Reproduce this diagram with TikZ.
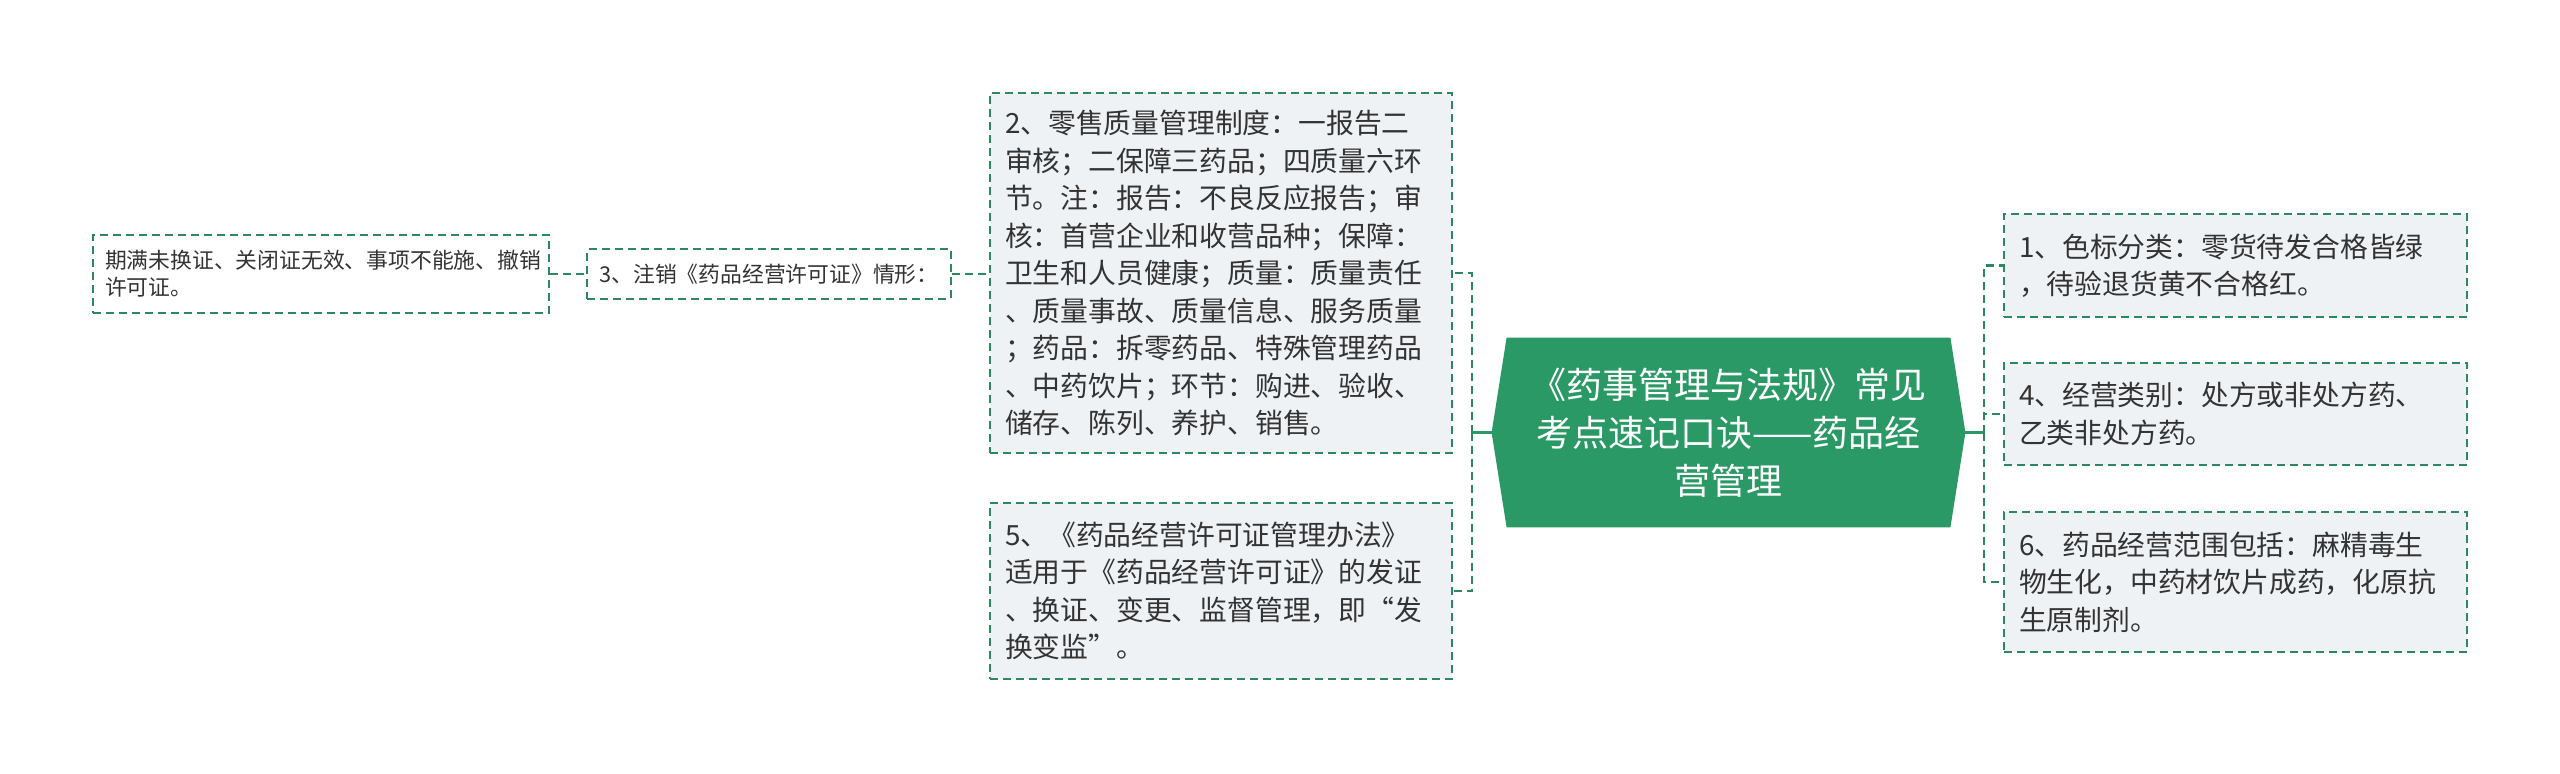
\documentclass[tikz,border=0pt]{standalone}
\usepackage{fontspec}
\setmainfont{Noto Sans CJK SC}
\usetikzlibrary{backgrounds}
\definecolor{cgreen}{RGB}{42,153,101}
\definecolor{bgreen}{RGB}{44,136,94}
\definecolor{boxfill}{RGB}{239,242,245}
\definecolor{txt}{RGB}{51,51,51}
\begin{document}
\begin{tikzpicture}[x=0.5pt,y=-0.5pt,
  leaf/.style={draw=bgreen, line width=1pt, dash pattern=on 4pt off 2.5pt,
    fill=boxfill, text=txt, align=left, inner xsep=7.5pt, inner ysep=0pt,
    text width=216.5pt, anchor=center, font=\fontsize{13.9}{18.75}\selectfont},
  smallleaf/.style={draw=bgreen, line width=1pt, dash pattern=on 4pt off 2.5pt,
    fill=white, text=txt, inner xsep=6pt, inner ysep=0pt, anchor=center,
    font=\fontsize{10.9}{13.5}\selectfont},
  rootnode/.style={text=white, align=center, inner sep=0pt,
    minimum width=221.5pt, minimum height=94.5pt,
    font=\fontsize{18}{24}\selectfont},
  solidcon/.style={draw=cgreen, line width=1.5pt},
  dashcon/.style={draw=bgreen, line width=1.2pt, dash pattern=on 4pt off 2.5pt}
]
\useasboundingbox (0,0) rectangle (2560,773);

% root
\node[rootnode] (c) at (1728.5,432.5) {《药事管理与法规》常见\\考点速记口诀——药品经\\营管理};
\coordinate (cR) at ([xshift=7.5pt]c.east);
\coordinate (cL) at ([xshift=-7.5pt]c.west);
\begin{scope}[on background layer]
  \fill[white] (0,0) rectangle (2560,773);
  \fill[cgreen] (c.north west) -- (c.north east) -- (cR) -- (c.south east)
    -- (c.south west) -- (cL) -- cycle;
\end{scope}

% right side
\node[leaf, minimum height=51.5pt] (b1) at (2235.5,265.5)
  {1、色标分类：零货待发合格皆绿\\，待验退货黄不合格红。};
\node[leaf, minimum height=51pt] (b4) at (2235.5,414)
  {4、经营类别：处方或非处方药、\\乙类非处方药。};
\node[leaf, minimum height=70pt] (b6) at (2235.5,582)
  {6、药品经营范围包括：麻精毒生\\物生化，中药材饮片成药，化原抗\\生原制剂。};

% left side
\node[leaf, text width=216pt, minimum height=180pt] (b2) at (1221,273)
  {2、零售质量管理制度：一报告二\\审核；二保障三药品；四质量六环\\节。注：报告：不良反应报告；审\\核：首营企业和收营品种；保障：\\卫生和人员健康；质量：质量责任\\、质量事故、质量信息、服务质量\\；药品：拆零药品、特殊管理药品\\、中药饮片；环节：购进、验收、\\储存、陈列、养护、销售。};
\node[leaf, text width=216pt, minimum height=88pt] (b5) at (1221,591)
  {5、《药品经营许可证管理办法》\\适用于《药品经营许可证》的发证\\、换证、变更、监督管理，即“发\\换变监”。};
\node[smallleaf, minimum width=180pt, minimum height=25pt] (b3) at (769,274)
  {3、注销《药品经营许可证》情形：};
\node[smallleaf, align=left, text width=216pt, minimum height=39pt] (bq) at (321,274)
  {期满未换证、关闭证无效、事项不能施、撤销\\许可证。};

% connectors
\coordinate (jR) at (1984,432.5);
\coordinate (jL) at (1472,432.5);
\draw[solidcon] (cR) -- (jR);
\draw[solidcon] (cL) -- (jL);
\draw[dashcon] (jR) |- (b1.west);
\draw[dashcon] (jR) |- (b4.west);
\draw[dashcon] (jR) |- (b6.west);
\draw[dashcon] (jL) |- (b2.east);
\draw[dashcon] (jL) |- (b5.east);
\draw[dashcon] (b3.east) -- (b3.east -| b2.west);
\draw[dashcon] (bq.east) -- (b3.west);
\end{tikzpicture}
\end{document}
